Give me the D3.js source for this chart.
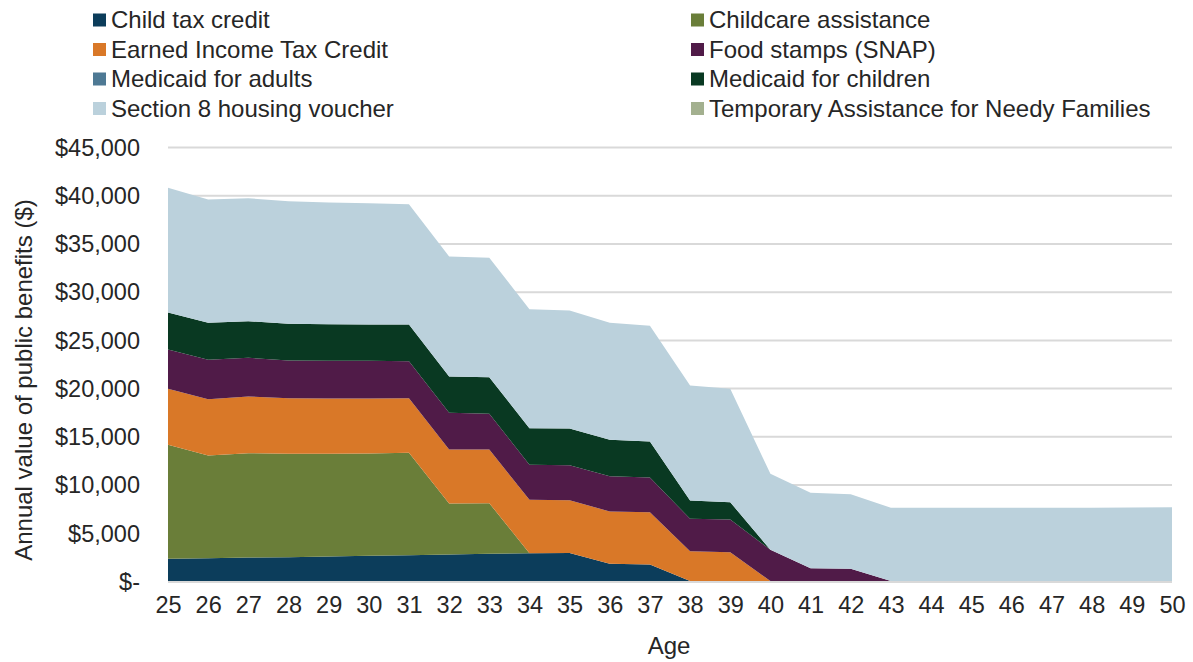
<!DOCTYPE html>
<html>
<head>
<meta charset="utf-8">
<script src="https://cdn.jsdelivr.net/npm/d3@7"></script>
<style>
    body { margin: 0; background: white; }
    text { font-family: "Liberation Sans", Arial, sans-serif; fill: #262626; }
</style>
</head>
<body>
<div id="chart"></div>
<script>
// values, one entry per age 25..50
var ages = d3.range(25, 51);
var childTaxCredit = [2300, 2360, 2440, 2470, 2540, 2610, 2680, 2750, 2820, 2880, 2900, 1780, 1710, 0, 0, 0, 0, 0, 0, 0, 0, 0, 0, 0, 0, 0];
var childcare = [11820, 10650, 10810, 10720, 10650, 10610, 10610, 5290, 5250, 0, 0, 0, 0, 0, 0, 0, 0, 0, 0, 0, 0, 0, 0, 0, 0, 0];
var eitc = [5810, 5840, 5880, 5770, 5730, 5700, 5670, 5600, 5570, 5540, 5470, 5430, 5430, 3090, 2990, 0, 0, 0, 0, 0, 0, 0, 0, 0, 0, 0];
var snap = [4070, 4080, 4010, 3900, 3910, 3910, 3830, 3800, 3700, 3630, 3630, 3660, 3590, 3360, 3390, 3230, 1330, 1260, 0, 0, 0, 0, 0, 0, 0, 0];
var medicaidAdults = [0, 0, 0, 0, 0, 0, 0, 0, 0, 0, 0, 0, 0, 0, 0, 0, 0, 0, 0, 0, 0, 0, 0, 0, 0, 0];
var medicaidChildren = [3840, 3840, 3800, 3810, 3800, 3770, 3810, 3760, 3790, 3800, 3800, 3770, 3740, 1900, 1790, 0, 0, 0, 0, 0, 0, 0, 0, 0, 0, 0];
var section8 = [12930, 12790, 12750, 12710, 12620, 12580, 12470, 12450, 12380, 12330, 12240, 12130, 11990, 11920, 11760, 7880, 7810, 7740, 7600, 7600, 7600, 7600, 7600, 7600, 7620, 7650];
var tanf = [0, 0, 0, 0, 0, 0, 0, 0, 0, 0, 0, 0, 0, 0, 0, 0, 0, 0, 0, 0, 0, 0, 0, 0, 0, 0];

var seriesNames = ["Child tax credit", "Childcare assistance", "Earned Income Tax Credit", "Food stamps (SNAP)",
    "Medicaid for adults", "Medicaid for children", "Section 8 housing voucher", "Temporary Assistance for Needy Families"];
var seriesValues = [childTaxCredit, childcare, eitc, snap, medicaidAdults, medicaidChildren, section8, tanf];
var seriesColors = ["#0c3d5b", "#6a7e39", "#d97828", "#501b48", "#4e7994", "#093922", "#bbd1dc", "#a3b08f"];
var yTicks = [0, 5000, 10000, 15000, 20000, 25000, 30000, 35000, 40000, 45000];

var w = 1193, h = 662;
var gridColor = "#d9d9d9";
var tickSize = "23.5px";
var labelSize = "24px";

var svg = d3.select("#chart").append("svg").attr("width", w).attr("height", h);

var x = d3.scaleLinear().domain([25, 50]).range([168, 1172]);
var y = d3.scaleLinear().domain([0, 45000]).range([581, 147]);

// table for the stack
var table = ages.map(function(a, i) {
    var row = {age: a};
    seriesNames.forEach(function(n, j) { row[n] = seriesValues[j][i]; });
    return row;
});
var stacked = d3.stack().keys(seriesNames)(table);

// gridlines
svg.append("g")
    .attr("transform", "translate(168,0)")
    .call(d3.axisLeft(y).tickValues(yTicks).tickSize(-(1172 - 168)).tickFormat(""))
    .call(function(g) {
        g.select(".domain").remove();
        g.selectAll("line").attr("stroke", gridColor).attr("stroke-width", 2);
    });

var area = d3.area()
    .x(function(d) { return x(d.data.age); })
    .y0(function(d) { return y(d[0]); })
    .y1(function(d) { return y(d[1]); });

svg.append("g").selectAll("path").data(stacked).enter().append("path")
    .attr("d", area)
    .attr("fill", function(d, i) { return seriesColors[i]; });

// baseline
svg.append("line")
    .attr("x1", 168).attr("x2", 1172)
    .attr("y1", y(0) + 1).attr("y2", y(0) + 1)
    .attr("stroke", gridColor).attr("stroke-width", 2);

// y axis labels
var yAxis = svg.append("g")
    .attr("transform", "translate(140,0)")
    .call(d3.axisLeft(y).tickValues(yTicks).tickSize(0)
        .tickFormat(function(d) { return d === 0 ? "$-" : "$" + d3.format(",")(d); }));
yAxis.select(".domain").remove();
yAxis.selectAll("text")
    .attr("font-family", "Liberation Sans, Arial, sans-serif")
    .attr("font-size", tickSize)
    .attr("fill", "#262626")
    .attr("x", 0)
    .attr("dy", "0.35em");

// x axis labels
var xAxis = svg.append("g")
    .attr("transform", "translate(0," + 596 + ")")
    .call(d3.axisBottom(x).tickValues(ages).tickSize(0).tickFormat(d3.format("d")));
xAxis.select(".domain").remove();
xAxis.selectAll("text")
    .attr("font-family", "Liberation Sans, Arial, sans-serif")
    .attr("font-size", tickSize)
    .attr("fill", "#262626")
    .attr("y", 0)
    .attr("dy", "0.71em");

// axis titles
svg.append("text")
    .attr("x", 669).attr("y", 654)
    .attr("text-anchor", "middle")
    .attr("font-size", labelSize)
    .text("Age");

svg.append("text")
    .attr("transform", "translate(32,380) rotate(-90)")
    .attr("text-anchor", "middle")
    .attr("font-size", labelSize)
    .text("Annual value of public benefits ($)");

// legend, two columns
var legend = svg.append("g");
seriesNames.forEach(function(n, i) {
    var col = i % 2, row = Math.floor(i / 2);
    var lx = col === 0 ? 93 : 691;
    var ly = 20 + row * 29.5;
    legend.append("rect")
        .attr("x", lx).attr("y", ly - 6.5)
        .attr("width", 13).attr("height", 13)
        .attr("fill", seriesColors[i]);
    legend.append("text")
        .attr("x", lx + 18).attr("y", ly)
        .attr("dy", "0.35em")
        .attr("font-size", labelSize)
        .text(n);
});
</script>
</body>
</html>
